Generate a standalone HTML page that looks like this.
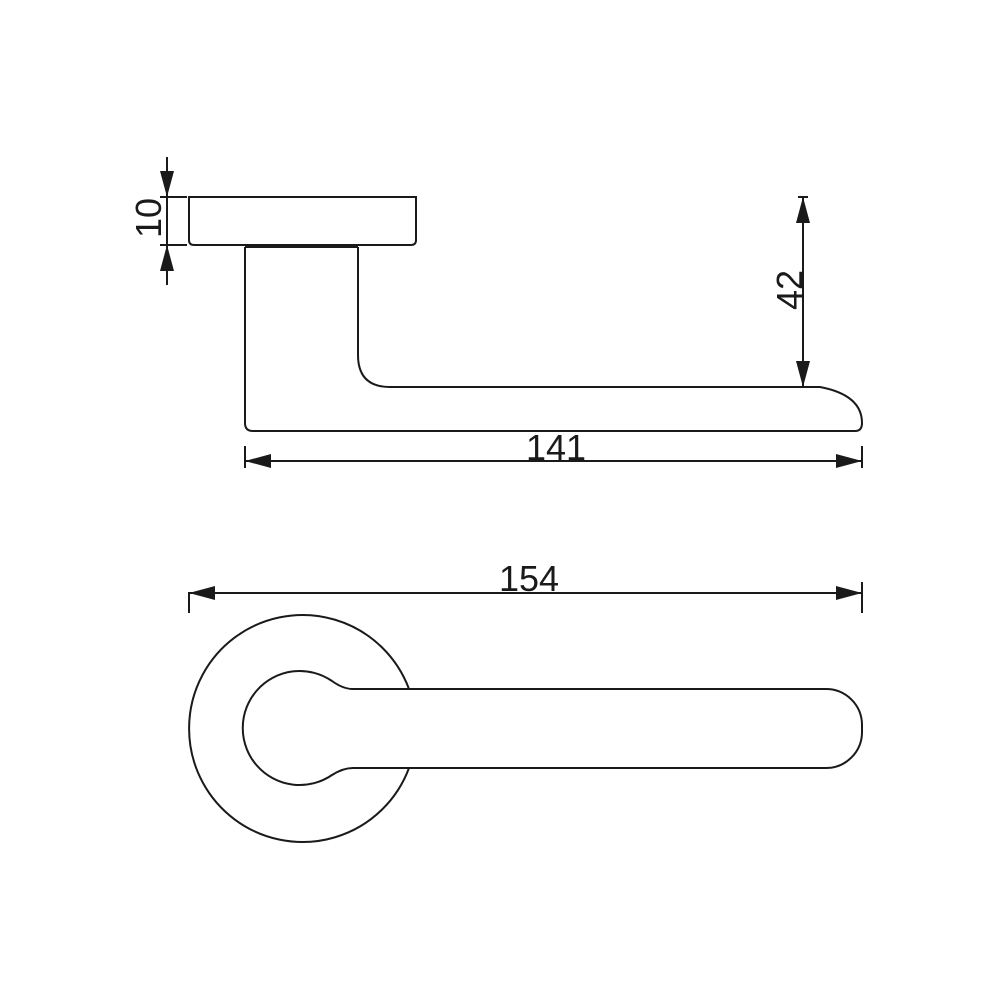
<!DOCTYPE html>
<html><head><style>html,body{margin:0;padding:0;background:#fff}svg{display:block}</style></head>
<body>
<svg width="1000" height="1000" viewBox="0 0 1000 1000" xmlns="http://www.w3.org/2000/svg">
<defs>
<marker id="a" viewBox="0 0 26 14" refX="26" refY="7" markerWidth="26" markerHeight="14" markerUnits="userSpaceOnUse" orient="auto-start-reverse">
<path d="M0,0 L26,7 L0,14 Z" fill="#1a1a1a"/>
</marker>
</defs>
<g fill="none" stroke="#1a1a1a" stroke-width="2">
<!-- top view rose -->
<path d="M189,197 H416 V240 Q416,245 411,245 H194 Q189,245 189,240 Z"/>
<path d="M245,247 H358"/>
<!-- lever side -->
<path d="M245,247 V423 Q245,431 253,431 H855 Q862,431 862,423 Q862,395 820,387 H390 Q358,387 358,355 V247"/>
<!-- dim 10 -->
<path d="M167,157 V197" marker-end="url(#a)"/>
<path d="M167,285 V245" marker-end="url(#a)"/>
<path d="M167,197 V245"/>
<path d="M160,197 H187 M160,245 H187"/>
<!-- dim 42 -->
<path d="M803,197 V387" marker-start="url(#a)" marker-end="url(#a)"/>
<path d="M798,197 H808"/>
<!-- dim 141 -->
<path d="M245,461 H862" marker-start="url(#a)" marker-end="url(#a)"/>
<path d="M245,446 V468 M862,446 V468"/>
<!-- dim 154 -->
<path d="M189,593 H862" marker-start="url(#a)" marker-end="url(#a)"/>
<path d="M189,592 V613 M862,582 V613"/>
<!-- front view -->
<path d="M409,689 A113.5,113.5 0 1 0 409,768"/>
<path d="M353,689 Q343,689 332,681 A57,57 0 1 0 332,775 Q343,768 353,768"/>
<path d="M353,689 H826 A36,36 0 0 1 862,725 V732 A36,36 0 0 1 826,768 H353"/>
</g>
<g font-family="Liberation Sans, sans-serif" font-size="36" fill="#1a1a1a">
<text x="556" y="460" text-anchor="middle">141</text>
<text x="529" y="591" text-anchor="middle">154</text>
<text transform="translate(161,218) rotate(-90)" text-anchor="middle">10</text>
<text transform="translate(802,290) rotate(-90)" text-anchor="middle">42</text>
</g>
</svg>
</body></html>
